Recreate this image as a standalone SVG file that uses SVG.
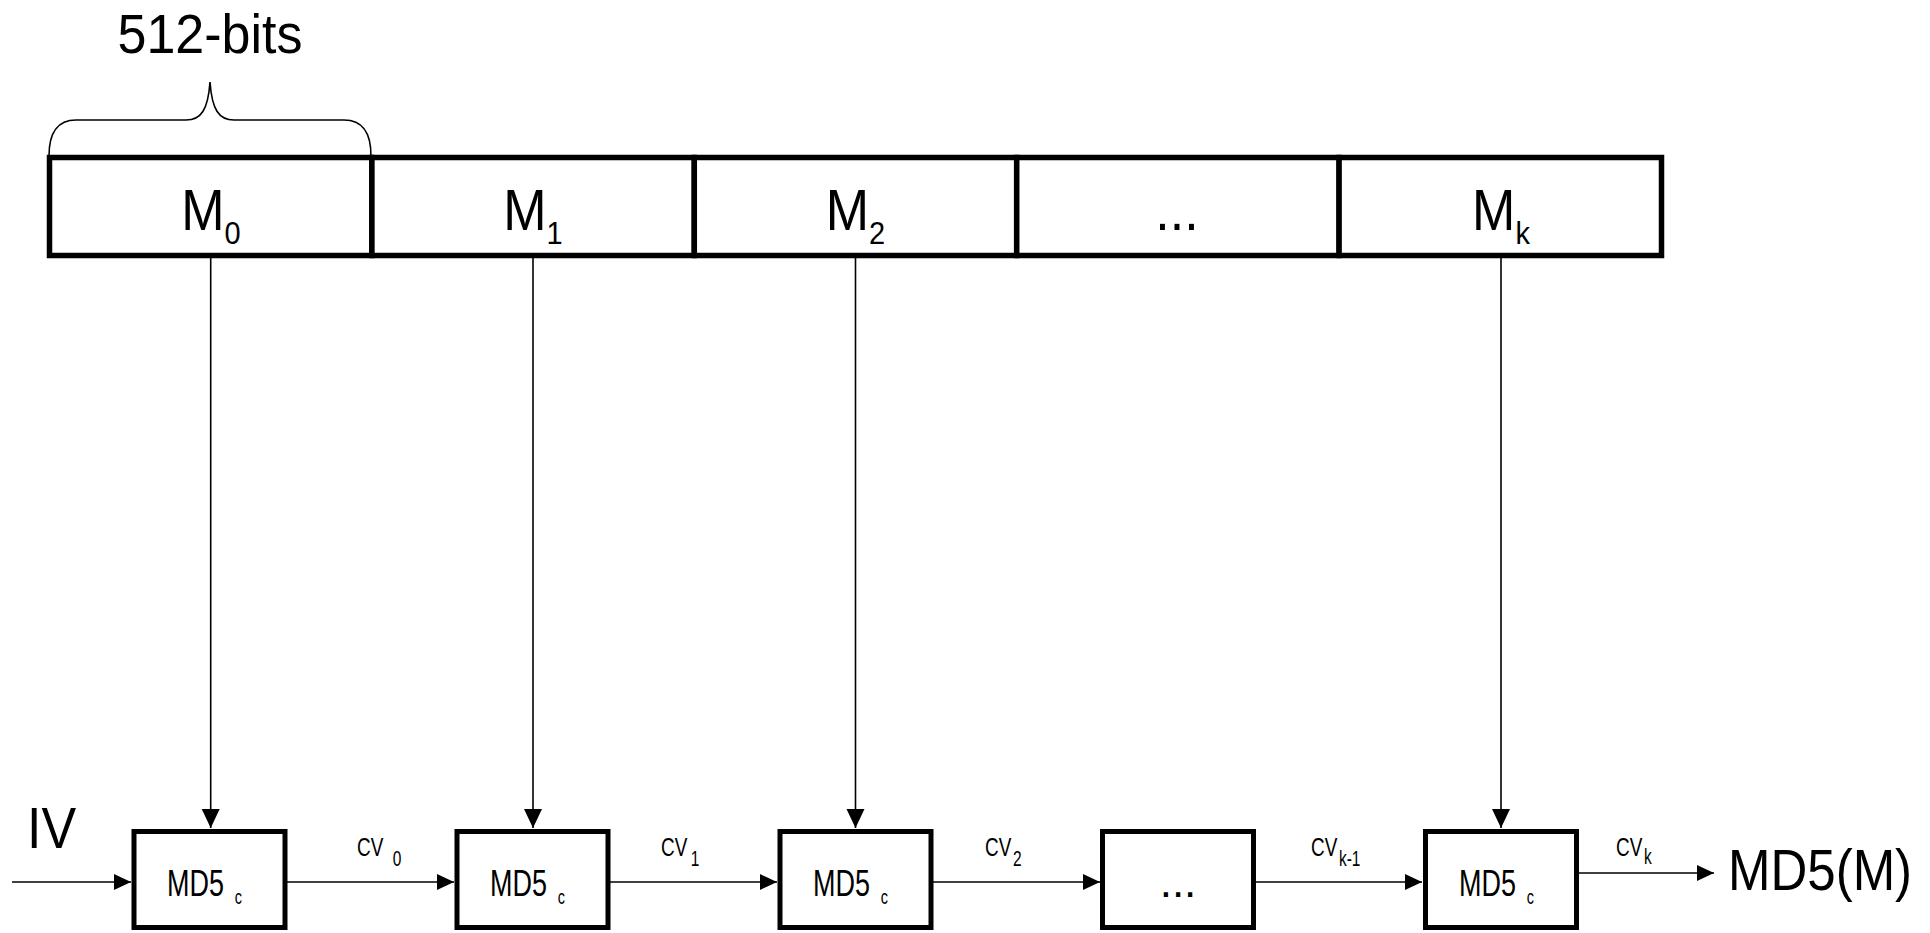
<svg xmlns="http://www.w3.org/2000/svg" width="1930" height="933" viewBox="0 0 1930 933">
  <style>
    .t { font-family: "Liberation Sans", Arial, sans-serif; fill: #000; }
    .cell { fill: #fff; stroke: #000; stroke-width: 5.5; }
    .box { fill: #fff; stroke: #000; stroke-width: 5; }
    .ln { fill: none; stroke: #000; stroke-width: 1.6; }
    .brace { fill: none; stroke: #000; stroke-width: 1.6; }
  </style>
  <defs>
    <marker id="ah" markerUnits="userSpaceOnUse" markerWidth="18" markerHeight="18" refX="17" refY="8" orient="auto">
      <path d="M0,0 L17,8 L0,16 z" fill="#000"/>
    </marker>
    <marker id="av" markerUnits="userSpaceOnUse" markerWidth="20" markerHeight="20" refX="19" refY="9" orient="auto">
      <path d="M0,0 L19,9 L0,18 z" fill="#000"/>
    </marker>
  </defs>
  <rect width="1930" height="933" fill="#fff"/>

  <g id="brace">
    <path class="brace" d="M49,156 C49,134 56,120 76,120 L186,120 C201,120 208,110 210,82 C212,110 219,120 234,120 L344,120 C364,120 371,134 371,156"/>
    <text class="t" font-size="52" text-anchor="middle" transform="translate(210,53) scale(1,1.07)">512-bits</text>
  </g>

  <g id="connectors">
    <line class="ln" x1="210.7" y1="258" x2="210.7" y2="828" marker-end="url(#av)"/>
    <line class="ln" x1="533" y1="258" x2="533" y2="828" marker-end="url(#av)"/>
    <line class="ln" x1="855.5" y1="258" x2="855.5" y2="828" marker-end="url(#av)"/>
    <line class="ln" x1="1501" y1="258" x2="1501" y2="828" marker-end="url(#av)"/>
    <line class="ln" x1="12" y1="882" x2="131" y2="882" marker-end="url(#ah)"/>
    <line class="ln" x1="287" y1="882" x2="454" y2="882" marker-end="url(#ah)"/>
    <line class="ln" x1="610" y1="882" x2="777" y2="882" marker-end="url(#ah)"/>
    <line class="ln" x1="933" y1="882" x2="1100" y2="882" marker-end="url(#ah)"/>
    <line class="ln" x1="1256" y1="882" x2="1422" y2="882" marker-end="url(#ah)"/>
    <line class="ln" x1="1579" y1="873" x2="1714" y2="873" marker-end="url(#ah)"/>
    <text class="t" font-size="22" transform="translate(357,856) scale(0.86,1.21)">CV<tspan font-size="18" dx="11" dy="8.3">0</tspan></text>
    <text class="t" font-size="22" transform="translate(661,856) scale(0.86,1.21)">CV<tspan font-size="18" dx="4" dy="8.3">1</tspan></text>
    <text class="t" font-size="22" transform="translate(985,856) scale(0.86,1.21)">CV<tspan font-size="18" dx="2" dy="8.3">2</tspan></text>
    <text class="t" font-size="22" transform="translate(1311,856) scale(0.86,1.21)">CV<tspan font-size="18" dx="2" dy="8.3">k-1</tspan></text>
    <text class="t" font-size="22" transform="translate(1616,856) scale(0.86,1.21)">CV<tspan font-size="18" dx="2" dy="6.5">k</tspan></text>
  </g>

  <g id="m0">
    <rect class="cell" x="49.5" y="157.5" width="322.4" height="98"/>
    <text class="t" font-size="52" text-anchor="middle" transform="translate(211,230) scale(1,1.1)">M<tspan font-size="29" dy="13">0</tspan></text>
  </g>
  <g id="m1">
    <rect class="cell" x="371.9" y="157.5" width="322.4" height="98"/>
    <text class="t" font-size="52" text-anchor="middle" transform="translate(533,230) scale(1,1.1)">M<tspan font-size="29" dy="13">1</tspan></text>
  </g>
  <g id="m2">
    <rect class="cell" x="694.3" y="157.5" width="322.4" height="98"/>
    <text class="t" font-size="52" text-anchor="middle" transform="translate(855.5,230) scale(1,1.1)">M<tspan font-size="29" dy="13">2</tspan></text>
  </g>
  <g id="mdots">
    <rect class="cell" x="1016.7" y="157.5" width="322.4" height="98"/>
    <text class="t" font-size="52" text-anchor="middle" transform="translate(1177,230) scale(1,1.1)">...</text>
  </g>
  <g id="mk">
    <rect class="cell" x="1339.1" y="157.5" width="322.4" height="98"/>
    <text class="t" font-size="52" text-anchor="middle" transform="translate(1501,230) scale(1,1.1)">M<tspan font-size="29" dy="13">k</tspan></text>
  </g>

  <g id="iv">
    <text class="t" font-size="52" transform="translate(27,848) scale(1,1.1)">IV</text>
  </g>

  <g id="md5c0">
    <rect class="box" x="134" y="831.5" width="151" height="96"/>
    <text class="t" font-size="30" transform="translate(167,896) scale(0.9,1.21)">MD5<tspan font-size="16" dx="12" dy="6.6">c</tspan></text>
  </g>
  <g id="md5c1">
    <rect class="box" x="457" y="831.5" width="151" height="96"/>
    <text class="t" font-size="30" transform="translate(490,896) scale(0.9,1.21)">MD5<tspan font-size="16" dx="12" dy="6.6">c</tspan></text>
  </g>
  <g id="md5c2">
    <rect class="box" x="780" y="831.5" width="151" height="96"/>
    <text class="t" font-size="30" transform="translate(813,896) scale(0.9,1.21)">MD5<tspan font-size="16" dx="12" dy="6.6">c</tspan></text>
  </g>
  <g id="md5cdots">
    <rect class="box" x="1102.5" y="831.5" width="151" height="96"/>
    <text class="t" font-size="44" text-anchor="middle" transform="translate(1178,897)">...</text>
  </g>
  <g id="md5ck">
    <rect class="box" x="1425.5" y="831.5" width="151" height="96"/>
    <text class="t" font-size="30" transform="translate(1459,896) scale(0.9,1.21)">MD5<tspan font-size="16" dx="12" dy="6.6">c</tspan></text>
  </g>

  <g id="md5m">
    <text class="t" font-size="51" transform="translate(1728,890) scale(1,1.13)">MD5(M)</text>
  </g>
</svg>
